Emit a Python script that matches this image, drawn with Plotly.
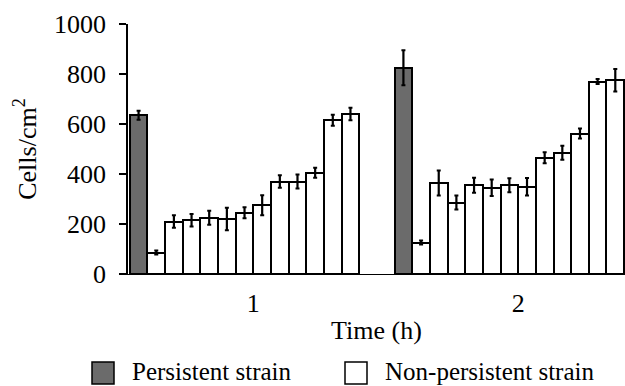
import plotly.graph_objects as go

# Data
time_labels = ["1", "2"]
persistent_values = [635, 825]
persistent_errors = [18, 70]
nonpersistent_h1 = [86, 210, 215, 225, 220, 245, 275, 370, 370, 405, 615, 640]
nonpersistent_h1_err = [8, 25, 25, 28, 45, 22, 40, 25, 28, 20, 22, 25]
nonpersistent_h2 = [126, 364, 286, 355, 345, 355, 349, 465, 485, 562, 770, 775]
nonpersistent_h2_err = [8, 50, 28, 30, 33, 28, 35, 22, 28, 20, 10, 45]
y_ticks = [0, 200, 400, 600, 800, 1000]
legend_names = ["Persistent strain", "Non-persistent strain"]

# Layout of bar slots: each group = 1 persistent + 12 non-persistent, 2-slot gap
n_np = len(nonpersistent_h1)
group_len = 1 + n_np
gap = 2
starts = [g * (group_len + gap) for g in range(len(time_labels))]

p_x = [s for s in starts]
np_x = [s + 1 + i for s in starts for i in range(n_np)]
np_y = nonpersistent_h1 + nonpersistent_h2
np_err = nonpersistent_h1_err + nonpersistent_h2_err
label_pos = [s + (group_len - 1) / 2 + 0.5 for s in starts]

FONT = "Liberation Serif"
FS = 26
P_COLOR = "#6b6b6b"
NP_COLOR = "white"

W, H = 625, 386
ML, MR, MT, MB = 128, 0, 24, 112
PW, PH = W - ML - MR, H - MT - MB


def px_to_paper_x(px):
    return (px - ML) / PW


def px_to_paper_y(py):
    return 1 - (py - MT) / PH


fig = go.Figure()
fig.add_trace(go.Bar(
    x=p_x, y=persistent_values, width=1.0,
    marker=dict(color=P_COLOR, line=dict(color="black", width=2)),
    error_y=dict(type="data", array=persistent_errors, color="black", thickness=2.2, width=2),
    showlegend=False, name=legend_names[0],
))
fig.add_trace(go.Bar(
    x=np_x, y=np_y, width=1.0,
    marker=dict(color=NP_COLOR, line=dict(color="black", width=2)),
    error_y=dict(type="data", array=np_err, color="black", thickness=2.2, width=2),
    showlegend=False, name=legend_names[1],
))

# Legend drawn as boxes + text (matching the reference's large swatches)
legend_box_left = [92, 345]
legend_box_size = 22
legend_box_top = 362
legend_colors = [P_COLOR, NP_COLOR]
for bx, name, col in zip(legend_box_left, legend_names, legend_colors):
    fig.add_shape(
        type="rect", xref="paper", yref="paper",
        x0=px_to_paper_x(bx), x1=px_to_paper_x(bx + legend_box_size),
        y0=px_to_paper_y(legend_box_top + legend_box_size), y1=px_to_paper_y(legend_box_top),
        fillcolor=col, line=dict(color="black", width=1.5),
    )
    fig.add_annotation(
        x=px_to_paper_x(bx + legend_box_size + 16), y=px_to_paper_y(legend_box_top + legend_box_size / 2 - 2),
        xref="paper", yref="paper", xanchor="left", yanchor="middle",
        text=name, showarrow=False,
        font=dict(family=FONT, size=25, color="black"),
    )

fig.update_layout(
    width=W, height=H,
    margin=dict(l=ML, r=MR, t=MT, b=MB, autoexpand=False),
    paper_bgcolor="white", plot_bgcolor="white",
    font=dict(family=FONT, size=FS, color="black"),
    bargap=0,
    showlegend=False,
)
fig.update_xaxes(
    range=[-0.6, 27.55], showgrid=False, zeroline=False, automargin=False,
    showline=True, linecolor="black", linewidth=1,
    tickmode="array", tickvals=label_pos, ticktext=time_labels,
    ticks="", ticklen=0, ticklabelstandoff=6,
    tickfont=dict(family=FONT, size=FS, color="black"),
    title=dict(text="Time (h)", font=dict(family=FONT, size=FS, color="black"), standoff=3),
)
fig.update_yaxes(
    range=[0, 1000], showgrid=False, zeroline=False, automargin=False,
    showline=True, linecolor="black", linewidth=1.5,
    tickmode="array", tickvals=y_ticks,
    ticks="outside", ticklen=7, tickwidth=1.5, tickcolor="black",
    ticklabelstandoff=8,
    tickfont=dict(family=FONT, size=FS, color="black"),
    title=dict(text="Cells/cm<sup>2</sup>", font=dict(family=FONT, size=FS, color="black"), standoff=10),
)

fig.write_html(
    "out.html",
    config={"displayModeBar": False},
    post_script="document.body.style.margin='0';document.body.style.overflow='hidden';",
)
